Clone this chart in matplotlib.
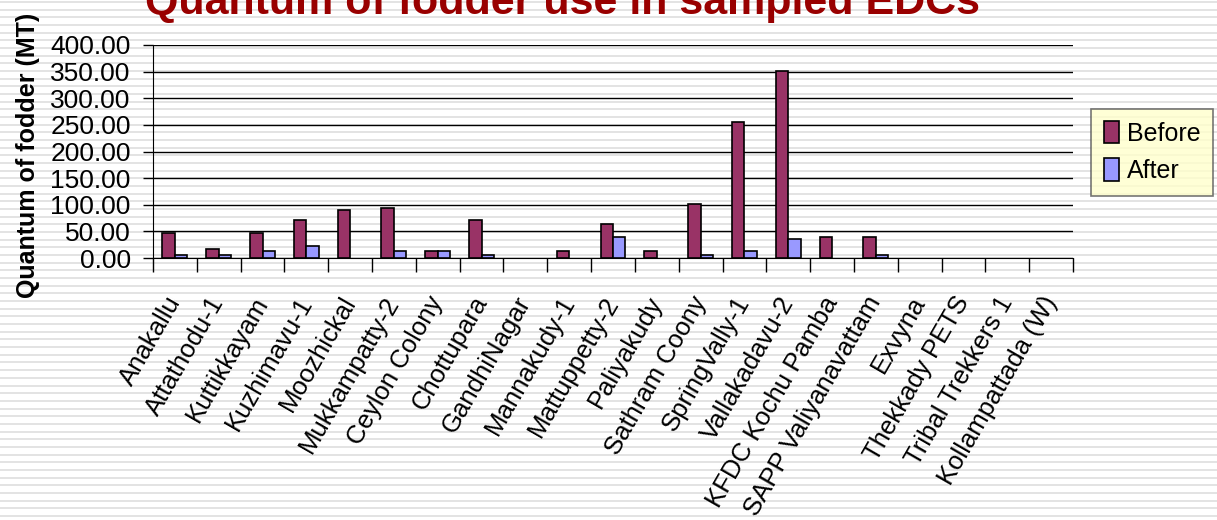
import matplotlib
matplotlib.use("Agg")
import matplotlib.pyplot as plt
import numpy as np

plt.rcParams['font.family'] = ['Liberation Sans', 'DejaVu Sans']

sites = ['Anakallu', 'Attathodu-1', 'Kuttikkayam', 'Kuzhimavu-1', 'Moozhickal',
         'Mukkampatty-2', 'Ceylon Colony', 'Chottupara', 'GandhiNagar', 'Mannakudy-1',
         'Mattuppetty-2', 'Paliyakudy', 'Sathram Coony', 'SpringVally-1', 'Vallakadavu-2',
         'KFDC Kochu Pamba', 'SAPP Valiyanavattam', 'Exvyna', 'Thekkady PETS',
         'Tribal Trekkers 1', 'Kollampattada (W)']
before = [47, 17, 47, 71, 91, 94, 12.5, 71, 0, 12.5,
          64, 12.5, 101, 256, 352, 39, 39, 0, 0, 0, 0]
after = [6, 6, 12.5, 23, 0, 12.5, 12.5, 6, 0, 0,
         39, 0, 6, 12.5, 36, 0, 6, 0, 0, 0, 0]
yticks = np.arange(0, 401, 50)

W, H = 1217, 520
fig = plt.figure(figsize=(W / 100, H / 100), dpi=100)

# striped slide background
bg = fig.add_axes([0, 0, 1, 1], zorder=-10)
bg.set_xlim(0, W)
bg.set_ylim(H, 0)
bg.axis('off')
for yy in np.arange(2.0, H, 7.67):
    bg.axhline(yy, color='#e3e3e3', linewidth=1.4)

ax = fig.add_axes([153 / W, 1 - 258 / H, 920 / W, 213 / H])
ax.patch.set_alpha(0)

x = np.arange(len(sites))
bw = 0.285
# zero values get no bar outline, as in the original
b_vals = np.where(np.array(before) > 0, before, np.nan)
a_vals = np.where(np.array(after) > 0, after, np.nan)
ax.bar(x - bw / 2, b_vals, bw, color='#993366', edgecolor='black', linewidth=1.2,
       label='Before', zorder=3)
ax.bar(x + bw / 2, a_vals, bw, color='#9999FF', edgecolor='black', linewidth=1.2,
       label='After', zorder=3)

ax.set_xlim(-0.5, len(sites) - 0.5)
ax.set_ylim(0, 400)
ax.set_yticks(yticks)
ax.set_yticklabels([f"{v:.2f}" for v in yticks], fontsize=19)
ax.tick_params(axis='y', direction='out', length=7, width=1, pad=9)
ax.yaxis.grid(True, color='black', linewidth=1)
ax.set_axisbelow(True)

ax.set_xticks(x)
ax.set_xticklabels(sites, rotation=60, ha='right', va='center',
                   rotation_mode='anchor', fontsize=18.5)
ax.tick_params(axis='x', which='major', length=0, pad=29)
ax.set_xticks(np.arange(-0.5, len(sites)), minor=True)
ax.tick_params(axis='x', which='minor', direction='out', length=10, width=1)

for s in ['top', 'right']:
    ax.spines[s].set_visible(False)
ax.spines['left'].set_color('black')
ax.spines['bottom'].set_color('black')

ax.set_ylabel('Quantum of fodder (MT)', fontsize=18, fontweight='bold')
ax.yaxis.set_label_coords(-0.123, 0.48)

fig.text(145 / W, 1 - 14 / H, 'Quantum of fodder use in sampled EDCs',
         fontsize=31, fontweight='bold', color='#990000', ha='left', va='baseline')

leg = fig.legend(loc='center left', bbox_to_anchor=(1091 / W, 1 - 152 / H),
                 fontsize=18, frameon=True, fancybox=False,
                 handlelength=0.6, handleheight=1.0, handletextpad=0.35,
                 borderpad=0.5, labelspacing=0.5, borderaxespad=0)
leg.get_frame().set_facecolor('#FFFFCC')
leg.get_frame().set_edgecolor('#555555')
leg.get_frame().set_linewidth(1.2)

fig.savefig('out.png', dpi=100)
